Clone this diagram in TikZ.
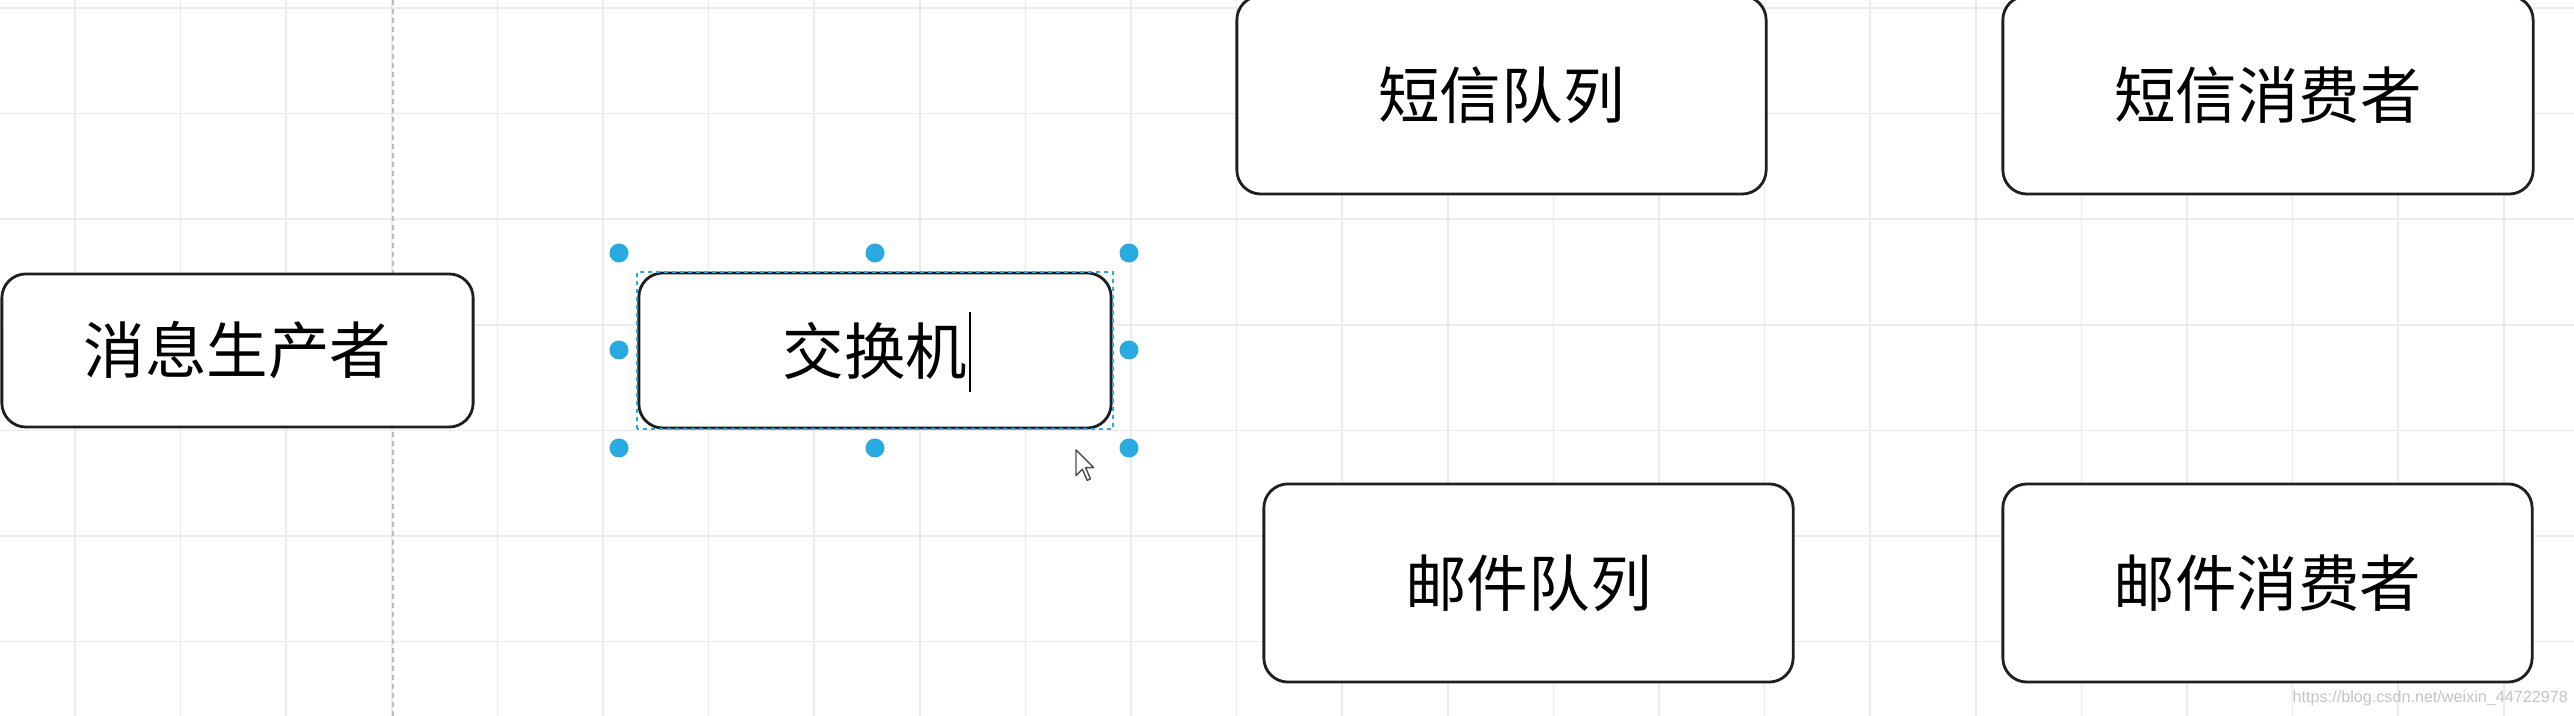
\documentclass[tikz,border=0pt]{standalone}
\usepackage{fontspec}
\setmainfont{Liberation Sans}
\newfontfamily\cjk{Noto Sans CJK SC}
\usepackage{tikz}
\usetikzlibrary{positioning}
\definecolor{gridgray}{HTML}{EBEBEB}
\definecolor{pagegray}{HTML}{BDBDBD}
\definecolor{selblue}{HTML}{29ABE2}
\definecolor{markgray}{HTML}{C4C4C4}

\begin{document}
\begin{tikzpicture}[x=0.01cm, y=-0.01cm,
  box/.style={draw=black!88, line width=0.8pt, rounded corners=0.24cm, fill=white, inner sep=0pt,
    font=\cjk\fontsize{17.5pt}{20pt}\selectfont},
  gridline/.style={gridgray, line width=0.45pt}]
\useasboundingbox[fill=white] (0,0) rectangle (2574,716);

\foreach \gx in {0,...,23} \draw[gridline] ({75+105.6*\gx},0) -- ({75+105.6*\gx},716);
\foreach \gy in {0,...,6} \draw[gridline] (0,{8+105.6*\gy}) -- (2574,{8+105.6*\gy});
\draw[pagegray, line width=0.5pt, dash pattern=on 0.05cm off 0.04cm] (393,0) -- (393,716);

\node[box, minimum width=4.71cm, minimum height=1.53cm] (producer) at (237.5,350.5) {消息生产者};
\node[box, minimum width=4.72cm, minimum height=1.55cm] (exchange) at (875,350.5) {交换机};
\node[box, minimum width=5.29cm, minimum height=1.98cm] (smsQueue) at (1501.5,95) {短信队列};
\node[box, minimum width=5.30cm, minimum height=1.98cm] (smsConsumer) at (2268,95) {短信消费者};
\node[box, minimum width=5.29cm, minimum height=1.98cm] (mailQueue) at (1528.5,583) {邮件队列};
\node[box, minimum width=5.29cm, minimum height=1.98cm] (mailConsumer) at (2267.5,583) {邮件消费者};

\draw[selblue, line width=0.55pt, dash pattern=on 0.04cm off 0.04cm] (exchange.south west) rectangle (exchange.north east);
\foreach \hx/\hy in {619/253, 875/253, 1129/253, 619/350, 1129/350, 619/448, 875/448, 1129/448}
  \fill[selblue] (\hx,\hy) circle (0.095cm);
\draw[line width=0.35pt] (970,312) -- (970,392);

\draw[fill=white, draw=black!70, line width=0.4pt, line join=round] (1076,450) -- ++(0,25.6) -- ++(6.4,-6.4)
  -- ++(4.8,11.2) -- ++(3.2,-1.6) -- ++(-4.8,-11.2) -- ++(8,0) -- cycle;

\node[anchor=west, text=markgray, font=\fontsize{4.6pt}{5pt}\selectfont, inner sep=0pt] (watermark) at (2292,698)
  {https://blog.csdn.net/weixin\_44722978};
\end{tikzpicture}
\end{document}
